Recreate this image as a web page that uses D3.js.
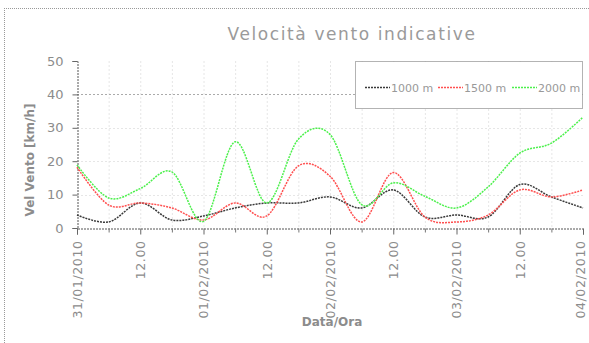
<!DOCTYPE html>
<html>
<head>
<meta charset="utf-8">
<script src="https://cdn.jsdelivr.net/npm/d3@7"></script>
<style>
  html, body { margin: 0; padding: 0; background: #fff; }
  svg { display: block; font-family: "DejaVu Sans", sans-serif; }
</style>
</head>
<body>
<svg id="chart" width="589" height="343"></svg>
<script>
// Hours since the start of the window, one reading every 6 hours
const hours = [0, 6, 12, 18, 24, 30, 36, 42, 48, 54, 60, 66, 72, 78, 84, 90, 96];

// Wind speed (km/h) at three altitudes
const v1000 = [3.9, 1.8, 7.5, 2.4, 3.6, 6.0, 7.5, 7.5, 9.3, 6.0, 11.4, 3.3, 3.9, 3.3, 13.0, 9.3, 6.0];
const v1500 = [18.2, 6.9, 7.5, 6.0, 2.4, 7.5, 3.6, 18.6, 15.5, 1.8, 16.6, 3.3, 1.8, 3.9, 11.4, 9.3, 11.4];
const v2000 = [18.9, 9.0, 11.8, 16.8, 2.0, 25.8, 7.5, 26.6, 28.0, 7.0, 13.5, 9.5, 6.0, 12.3, 22.4, 25.4, 33.2];

const seriesNames = ["1000 m", "1500 m", "2000 m"];
const seriesColors = ["#3a3a3a", "#ff5050", "#4cf04c"];

// Axis ticks
const yTicks = [0, 10, 20, 30, 40, 50];
const xMajorHours = [0, 12, 24, 36, 48, 60, 72, 84, 96];
const xMajorLabels = ["31/01/2010", "12.00", "01/02/2010", "12.00", "02/02/2010",
                      "12.00", "03/02/2010", "12.00", "04/02/2010"];
const xMinorHours = [6, 18, 30, 42, 54, 66, 78, 90];

const svg = d3.select("#chart");
const txt = "#8c8c8c";

const x = d3.scaleLinear().domain([0, 96]).range([77, 583]);
const y = d3.scaleLinear().domain([0, 50]).range([228, 61]);

// Outer frame (top and left edges)
svg.append("line").attr("x1", 4).attr("x2", 589).attr("y1", 8.5).attr("y2", 8.5)
  .attr("stroke", "#999").attr("stroke-dasharray", "1,1");
svg.append("line").attr("x1", 4.5).attr("x2", 4.5).attr("y1", 8).attr("y2", 343)
  .attr("stroke", "#999").attr("stroke-dasharray", "1,1");

// Title
svg.append("text").attr("x", 352).attr("y", 40).attr("text-anchor", "middle")
  .attr("font-size", 17).attr("letter-spacing", 1.6).attr("fill", "#9a9a9a")
  .text("Velocità vento indicative");

// Grid lines
const grid = svg.append("g");
grid.selectAll("line.v").data(xMajorHours.concat(xMinorHours).filter(h => h > 0 && h < 96))
  .join("line")
  .attr("x1", d => x(d) + 0.5).attr("x2", d => x(d) + 0.5)
  .attr("y1", y(50)).attr("y2", y(0))
  .attr("stroke", "#e6e6e6").attr("stroke-dasharray", "2,2");
grid.selectAll("line.h").data(yTicks.filter(t => t > 0 && t < 50))
  .join("line")
  .attr("x1", x(0)).attr("x2", x(96))
  .attr("y1", d => Math.round(y(d)) + 0.5).attr("y2", d => Math.round(y(d)) + 0.5)
  .attr("stroke", d => d === 40 ? "#aaa" : "#e6e6e6").attr("stroke-dasharray", "2,2");

// Y axis
const yAxis = d3.axisLeft(y).tickValues(yTicks).tickSize(5).tickPadding(9);
const gy = svg.append("g").attr("transform", "translate(77.5,0)").call(yAxis);
gy.select(".domain").attr("stroke", "#555").attr("stroke-dasharray", "2,1");
gy.selectAll(".tick line").attr("stroke", "#666");
gy.selectAll(".tick text").attr("fill", txt).attr("font-size", 13)
  .attr("font-family", "DejaVu Sans");

// X axis: major ticks with labels, minor ticks without
const xAxis = d3.axisBottom(x).tickValues(xMajorHours).tickSize(6)
  .tickFormat((d, i) => xMajorLabels[i]);
const gx = svg.append("g").attr("transform", "translate(0,228.5)").call(xAxis);
gx.select(".domain").attr("stroke", "#555").attr("stroke-dasharray", "2,1");
gx.selectAll(".tick line").attr("stroke", "#666");
gx.selectAll(".tick text").attr("fill", txt).attr("font-size", 12.5)
  .attr("font-family", "DejaVu Sans").attr("letter-spacing", 0.6)
  .attr("text-anchor", "end").attr("dy", "0.35em")
  .attr("transform", "translate(0,3) rotate(-90)")
  .attr("x", -9).attr("y", 0);
gx.selectAll(".tick text").filter((d, i) => i === xMajorHours.length - 1).attr("dy", "0.1em");
svg.append("g").selectAll("line").data(xMinorHours).join("line")
  .attr("x1", d => x(d) + 0.5).attr("x2", d => x(d) + 0.5)
  .attr("y1", 228.5).attr("y2", 232.5).attr("stroke", "#777");

// Axis titles
svg.append("text").attr("transform", "translate(34,160) rotate(-90)")
  .attr("text-anchor", "middle").attr("font-size", 12).attr("font-weight", "bold")
  .attr("fill", txt).text("Vel Vento [km/h]");
svg.append("text").attr("x", 332).attr("y", 326).attr("text-anchor", "middle")
  .attr("font-size", 12).attr("font-weight", "bold").attr("fill", txt).text("Data/Ora");

// Lines
const line = d3.line().x((d, i) => x(hours[i])).y(d => y(d)).curve(d3.curveCardinal.tension(0));
[v1000, v1500, v2000].forEach((vals, k) => {
  svg.append("path").datum(vals).attr("d", line)
    .attr("fill", "none").attr("stroke", seriesColors[k]).attr("stroke-width", 1.5)
    .attr("stroke-dasharray", "2,1");
});

// Legend
const lg = svg.append("g");
lg.append("rect").attr("x", 355.5).attr("y", 61.5).attr("width", 227).attr("height", 47)
  .attr("fill", "#fff").attr("stroke", "#666").attr("stroke-dasharray", "1,1");
const lx = [365, 438, 512];
seriesNames.forEach((n, k) => {
  lg.append("line").attr("x1", lx[k]).attr("x2", lx[k] + 25).attr("y1", 87.5).attr("y2", 87.5)
    .attr("stroke", seriesColors[k]).attr("stroke-width", 1.5).attr("stroke-dasharray", "2,1");
  lg.append("text").attr("x", lx[k] + 26).attr("y", 91.5).attr("font-size", 11)
    .attr("fill", "#999").text(n);
});
</script>
</body>
</html>
